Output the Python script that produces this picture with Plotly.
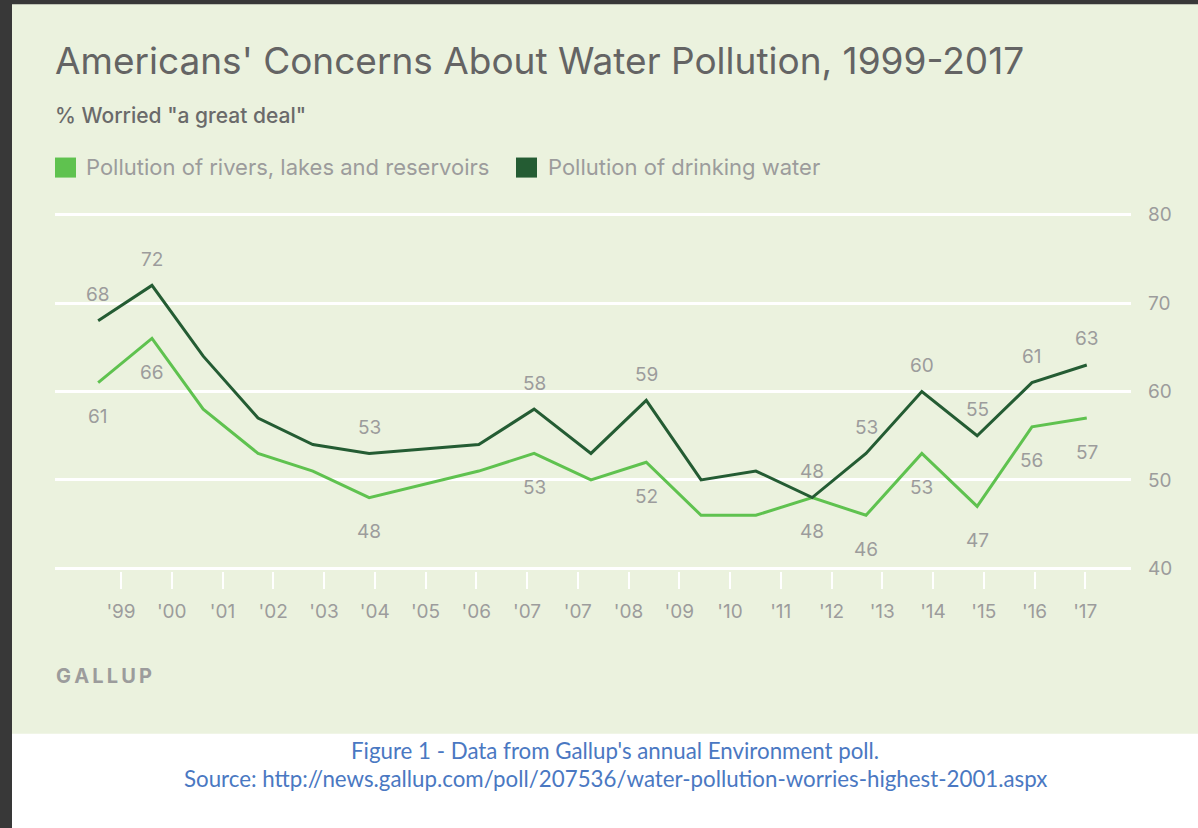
import plotly.graph_objects as go

# ---------------- data ----------------
tick_labels = ["'99", "'00", "'01", "'02", "'03", "'04", "'05", "'06", "'07", "'07",
               "'08", "'09", "'10", "'11", "'12", "'13", "'14", "'15", "'16", "'17"]
# survey positions measured along the tick scale (tick index units)
survey_pos = [-0.45, 0.61, 1.62, 2.70, 3.78, 4.89, 7.05, 8.14, 9.26, 10.35,
              11.43, 12.51, 13.62, 14.68, 15.78, 16.87, 17.95, 19.03]
drinking_water = [68, 72, 64, 57, 54, 53, 54, 58, 53, 59, 50, 51, 48, 53, 60, 55, 61, 63]
rivers_lakes = [61, 66, 58, 53, 51, 48, 51, 53, 50, 52, 46, 46, 48, 46, 53, 47, 56, 57]
labeled_points = [0, 1, 5, 7, 9, 12, 13, 14, 15, 16, 17]
series_names = ["Pollution of rivers, lakes and reservoirs", "Pollution of drinking water"]
y_ticks = [40, 50, 60, 70, 80]

# ---------------- style ----------------
W, H = 1198, 828
L, R_EDGE = 55, 1131
Y40, Y80 = 568, 215          # pixel rows of the 40 and 80 gridlines
PAD = 0.3                    # axis range padding so edge gridlines are drawn
UNIT = (Y40 - Y80) / 40.0
TOP = Y80 - PAD * UNIT
BOT = Y40 + PAD * UNIT
BG = "#ebf2de"
FRAME = "#383838"
LIGHT = "#5fc24f"
DARK = "#245c33"
GRAY = "#9c9c9c"
TITLE_GRAY = "#646464"
CAP_BLUE = "#4a78c2"
FONT = "Inter"


def px_x(p):
    return (p - L) / (R_EDGE - L)


def px_y(p):
    return (BOT - p) / (BOT - TOP)


fig = go.Figure()
fig.add_trace(go.Scatter(x=survey_pos, y=rivers_lakes, mode="lines",
                         line=dict(color=LIGHT, width=3), name=series_names[0],
                         showlegend=False))
fig.add_trace(go.Scatter(x=survey_pos, y=drinking_water, mode="lines",
                         line=dict(color=DARK, width=3), name=series_names[1],
                         showlegend=False))

ann = []
for i in labeled_points:
    ann.append(dict(x=survey_pos[i], y=drinking_water[i], xref="x", yref="y",
                    text=str(drinking_water[i]), showarrow=False, yshift=26,
                    font=dict(family=FONT, size=19, color=GRAY)))
    ann.append(dict(x=survey_pos[i], y=rivers_lakes[i], xref="x", yref="y",
                    text=str(rivers_lakes[i]), showarrow=False, yshift=-34,
                    font=dict(family=FONT, size=19, color=GRAY)))

# title / subtitle
ann.append(dict(x=px_x(53), y=px_y(61), xref="paper", yref="paper", xanchor="left",
                yanchor="middle", showarrow=False,
                text="Americans' Concerns About Water Pollution, 1999-2017",
                font=dict(family=FONT, size=37, color=TITLE_GRAY)))
ann.append(dict(x=px_x(53), y=px_y(116), xref="paper", yref="paper", xanchor="left",
                yanchor="middle", showarrow=False,
                text='% Worried "a great deal"',
                font=dict(family=FONT, size=21, color="#6a6a6a", weight=500)))
# legend texts
ann.append(dict(x=px_x(84), y=px_y(167), xref="paper", yref="paper", xanchor="left",
                yanchor="middle", showarrow=False, text=series_names[0],
                font=dict(family=FONT, size=22, color=GRAY)))
ann.append(dict(x=px_x(546), y=px_y(167), xref="paper", yref="paper", xanchor="left",
                yanchor="middle", showarrow=False, text=series_names[1],
                font=dict(family=FONT, size=22, color=GRAY)))
# GALLUP
ann.append(dict(x=px_x(54), y=px_y(675), xref="paper", yref="paper", xanchor="left",
                yanchor="middle", showarrow=False,
                text="G\u2009A\u2009L\u2009L\u2009U\u2009P",
                font=dict(family=FONT, size=20, color=GRAY, weight="bold")))
# caption
ann.append(dict(x=px_x(615), y=px_y(750), xref="paper", yref="paper", xanchor="center",
                yanchor="middle", showarrow=False,
                text="Figure 1 - Data from Gallup's annual Environment poll.",
                font=dict(family="Lato", size=22.3, color=CAP_BLUE)))
ann.append(dict(x=px_x(615), y=px_y(778), xref="paper", yref="paper", xanchor="center",
                yanchor="middle", showarrow=False,
                text="Source: http://news.gallup.com/poll/207536/water-pollution-worries-highest-2001.aspx",
                font=dict(family="Lato", size=22.3, color=CAP_BLUE)))

shapes = [
    # white area below the chart panel
    dict(type="rect", xref="paper", yref="paper", x0=px_x(0), x1=px_x(W), y0=px_y(733),
         y1=px_y(H + 2), fillcolor="white", line=dict(width=0), layer="below"),
    # dark frame: left strip and top strip
    dict(type="rect", xref="paper", yref="paper", x0=px_x(-2), x1=px_x(12), y0=px_y(H + 2),
         y1=px_y(-2), fillcolor=FRAME, line=dict(width=0), layer="above"),
    dict(type="rect", xref="paper", yref="paper", x0=px_x(-2), x1=px_x(W + 2), y0=px_y(5),
         y1=px_y(-2), fillcolor=FRAME, line=dict(width=0), layer="above"),
    # legend squares
    dict(type="rect", xref="paper", yref="paper", x0=px_x(55), x1=px_x(76), y0=px_y(178),
         y1=px_y(158), fillcolor=LIGHT, line=dict(width=0)),
    dict(type="rect", xref="paper", yref="paper", x0=px_x(516), x1=px_x(537), y0=px_y(178),
         y1=px_y(158), fillcolor=DARK, line=dict(width=0)),
]

fig.update_layout(
    width=W, height=H,
    margin=dict(l=L, r=W - R_EDGE, t=TOP, b=H - BOT, pad=0),
    paper_bgcolor=BG, plot_bgcolor=BG,
    showlegend=False,
    annotations=ann, shapes=shapes,
    xaxis=dict(range=[(L - 121) / 50.75, (R_EDGE - 121) / 50.75],
               tickvals=list(range(len(tick_labels))), ticktext=tick_labels,
               showgrid=False, zeroline=False, showline=False,
               ticks="outside", ticklen=17, tickwidth=2, tickcolor="white",
               ticklabelstandoff=6,
               tickfont=dict(family=FONT, size=19, color=GRAY)),
    yaxis=dict(range=[40 - PAD, 80 + PAD], tickvals=y_ticks, side="right",
               showgrid=True, gridcolor="white", gridwidth=3, zeroline=False,
               showline=False, ticks="", ticklabelstandoff=16,
               tickfont=dict(family=FONT, size=19, color=GRAY)),
)

fig.write_html("out.html")
